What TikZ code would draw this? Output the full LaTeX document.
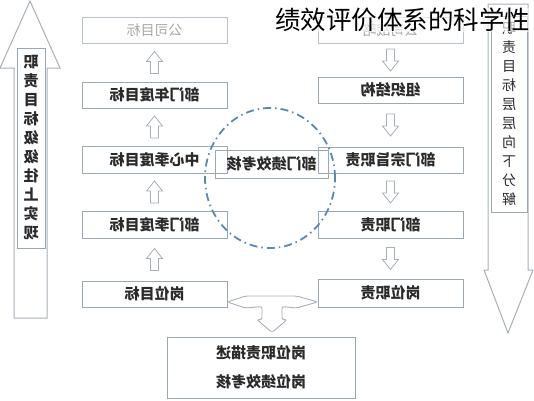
\documentclass[tikz,border=0pt]{standalone}
\usepackage{fontspec}
\usepackage{graphicx}
\usetikzlibrary{calc}
\newfontfamily\cjk{Noto Sans CJK SC}
\newcommand\mir[1]{\reflectbox{#1}}
\definecolor{boxc}{HTML}{9AA8B6}
\definecolor{txt}{HTML}{2A2A2A}
\definecolor{pale}{HTML}{A8A8A8}
\definecolor{arrc}{HTML}{A6B0BA}
\definecolor{circc}{HTML}{5A88B4}
\tikzset{
  box/.style={draw=boxc, line width=0.9pt, minimum width=145pt, minimum height=26pt,
    inner sep=0pt, text=txt, font=\cjk\bfseries\fontsize{15}{16}\selectfont},
  palebox/.style={box, draw=boxc!70, text=pale, font=\cjk\fontsize{14}{16}\selectfont},
  bigarrow/.style={draw=arrc, line width=1pt, fill=white},
  vtext/.style={draw=boxc, line width=0.8pt, fill=white, inner sep=0pt, text=txt, align=center},
  circline/.style={draw=circc, line width=1.8pt, dash pattern=on 8pt off 4pt on 1.5pt off 4pt},
  pics/harrow/.style={code={
    \draw[draw=arrc, line width=0.8pt, fill=white]
      (-4,11) -- (-4,-1) -- (-8,-1) -- (0,-11) -- (8,-1) -- (4,-1) -- (4,11) -- cycle;}}
}
\begin{document}
\begin{tikzpicture}[x=1pt,y=-1pt]
\useasboundingbox (0,0) rectangle (534,400);
% big left arrow (up)
\draw[bigarrow] (14,318) -- (14,68) -- (0,68) -- (30,1) -- (60,68) -- (47,68) -- (47,318) -- cycle;
\node[vtext, minimum width=28pt, minimum height=200pt, font=\cjk\bfseries\fontsize{15}{19}\selectfont] (lt) at (31,148)
  {\mir{职}\\\mir{责}\\\mir{目}\\\mir{标}\\\mir{级}\\\mir{级}\\\mir{往}\\\mir{上}\\\mir{实}\\\mir{现}};
% big right arrow (down)
\draw[bigarrow] (488,4) -- (488,270) -- (484,270) -- (508,333) -- (533,270) -- (528,270) -- (528,4) -- cycle;
\node[vtext, minimum width=36pt, minimum height=196pt, font=\cjk\fontsize{14}{19}\selectfont] (rt) at (509,114)
  {\mir{职}\\\mir{责}\\\mir{目}\\\mir{标}\\\mir{层}\\\mir{层}\\\mir{向}\\\mir{下}\\\mir{分}\\\mir{解}};
% left column
\node[palebox] (L1) at (154.5,30) {\mir{公司目标}};
\node[box] (L2) at (154.5,95) {\mir{部门年度目标}};
\node[box, minimum height=27pt] (L3) at (154.5,159.5) {\mir{中心季度目标}};
\node[box, minimum height=27pt] (L4) at (154.5,224.5) {\mir{部门季度目标}};
\node[box] (L5) at (154.5,294) {\mir{岗位目标}};
% right column
\node[palebox] (R1) at (390.5,30) {\mir{公司战略}};
\node[box] (R2) at (390.5,90) {\mir{组织结构}};
\node[box] (R3) at (390.5,160) {\mir{部门宗旨职责}};
\node[box, minimum height=27pt] (R4) at (390.5,224.5) {\mir{部门职责}};
\node[box, minimum height=28pt] (R5) at (390.5,293) {\mir{岗位职责}};
% centre
\node[box, minimum width=113pt, minimum height=28pt] (C) at (271.5,164) {\mir{部门绩效考核}};
% bottom
\node[box, minimum width=188pt, minimum height=61pt, align=center,
      font=\cjk\bfseries\fontsize{15}{29}\selectfont] (B) at (261,367.5) {\mir{岗位职责描述}\\\mir{岗位绩效考核}};
% small hollow arrows
\pic at ($(L1.south)!0.5!(L2.north)$) {harrow};
\pic at ($(L2.south)!0.5!(L3.north)$) {harrow};
\pic at ($(L3.south)!0.5!(L4.north)$) {harrow};
\pic at ($(L4.south)!0.5!(L5.north)$) {harrow};
\pic[rotate=180] at ($(R1.south)!0.5!(R2.north)$) {harrow};
\pic[rotate=180] at ($(R2.south)!0.5!(R3.north)$) {harrow};
\pic[rotate=180] at ($(R3.south)!0.5!(R4.north)$) {harrow};
\pic[rotate=180] at ($(R4.south)!0.5!(R5.north)$) {harrow};
% T connector
\coordinate (tl) at ($(L5.east)+(0,8)$);
\coordinate (tr) at ($(R5.west)+(0,9)$);
\coordinate (tb) at ($(B.north)+(11,-4)$);
\draw[draw=arrc, line width=0.9pt, fill=white, rounded corners=2pt]
  (tl) -- ++(18,-6) -- ($(tr)+(-21,-6)$) -- (tr) -- ($(tr)+(-21,6)$)
  -- ($(tb)+(10,-26)$) -- ($(tb)+(10,-13)$) -- ($(tb)+(15,-13)$) -- (tb)
  -- ($(tb)+(-15,-13)$) -- ($(tb)+(-10,-13)$) -- ($(tb)+(-10,-26)$)
  -- ($(tl)+(18,6)$) -- cycle;
% dash-dot ellipse
\draw[circline] (270,178) ellipse [x radius=65pt, y radius=70pt];
% title
\node[anchor=west, inner sep=0pt, font=\cjk\fontsize{25.5}{28}\selectfont, text=black,
      fill=white, fill opacity=0.6, text opacity=1] (title) at (275,20) {绩效评价体系的科学性};
\end{tikzpicture}
\end{document}
